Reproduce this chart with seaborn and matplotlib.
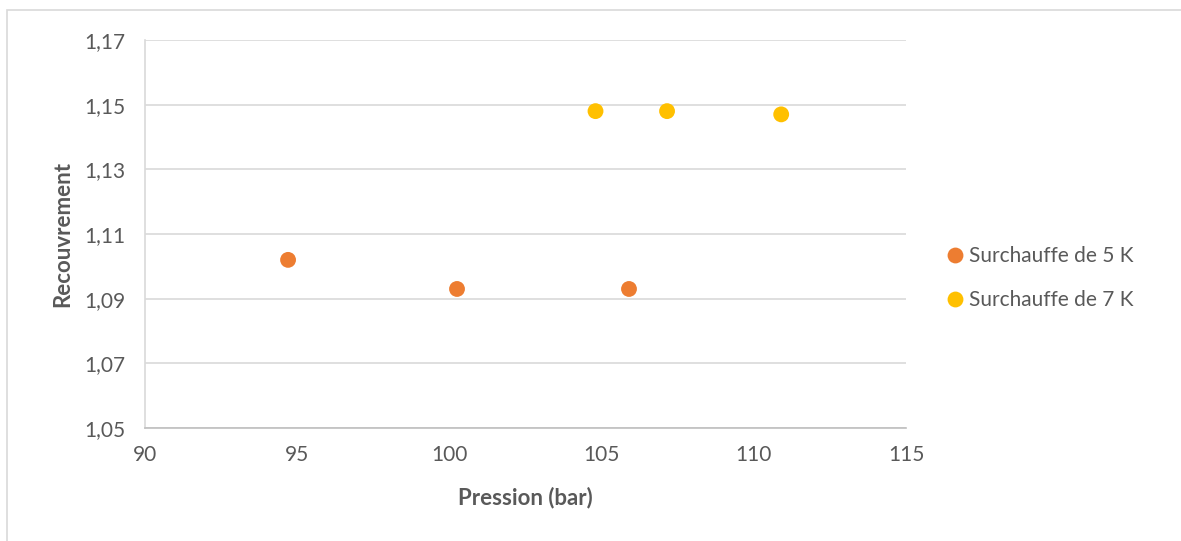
import matplotlib
matplotlib.use("Agg")
import matplotlib.pyplot as plt
import seaborn as sns
import pandas as pd
from matplotlib.ticker import FuncFormatter, FixedLocator
from matplotlib.patches import Rectangle

series_names = ["Surchauffe de 5 K", "Surchauffe de 7 K"]
pression_5K = [94.7, 100.25, 105.9]
recouvrement_5K = [1.102, 1.093, 1.093]
pression_7K = [104.8, 107.15, 110.9]
recouvrement_7K = [1.148, 1.148, 1.147]
x_ticks = [90, 95, 100, 105, 110, 115]
y_ticks = [1.05, 1.07, 1.09, 1.11, 1.13, 1.15, 1.17]
colors = ["#ED7D31", "#FFC000"]

df = pd.DataFrame({
    "Pression": pression_5K + pression_7K,
    "Recouvrement": recouvrement_5K + recouvrement_7K,
    "Série": [series_names[0]] * len(pression_5K) + [series_names[1]] * len(pression_7K),
})

sns.set_theme(style="white")
plt.rcParams["font.family"] = ["Lato", "DejaVu Sans"]

fig = plt.figure(figsize=(11.81, 5.41), dpi=100)
ax = fig.add_axes([145/1181, 1-428/541, (906-145)/1181, (428-40)/541])

sns.scatterplot(data=df, x="Pression", y="Recouvrement", hue="Série",
                palette=dict(zip(series_names, colors)), s=130, edgecolor="none",
                ax=ax, zorder=3)

ax.set_xlim(x_ticks[0], x_ticks[-1])
ax.set_ylim(y_ticks[0], y_ticks[-1])
ax.xaxis.set_major_locator(FixedLocator(x_ticks))
ax.yaxis.set_major_locator(FixedLocator(y_ticks))
ax.xaxis.set_major_formatter(FuncFormatter(lambda v, p: f"{v:.0f}"))
ax.yaxis.set_major_formatter(FuncFormatter(lambda v, p: f"{v:.2f}".replace(".", ",")))
ax.grid(axis="y", color="#D9D9D9", linewidth=1.2)
ax.set_axisbelow(True)
for s in ["top", "right"]:
    ax.spines[s].set_visible(False)
ax.spines["left"].set_color("#D9D9D9")
ax.spines["left"].set_linewidth(1.2)
ax.spines["bottom"].set_color("#BFBFBF")
ax.spines["bottom"].set_linewidth(1.2)
ax.tick_params(axis="both", length=0, labelsize=15, labelcolor="#595959")
ax.tick_params(axis="y", pad=14)
ax.tick_params(axis="x", pad=12)
ax.set_xlabel("Pression (bar)", fontsize=16, fontweight="bold", color="#595959", labelpad=16)
ax.set_ylabel("Recouvrement", fontsize=16, fontweight="bold", color="#595959", labelpad=8)

leg = ax.legend(loc="center left", bbox_to_anchor=(1.012, 0.387), frameon=False,
                fontsize=15, handletextpad=-0.3, labelspacing=1.15, markerscale=1.0)
for t in leg.get_texts():
    t.set_color("#595959")

fig.patches.append(Rectangle((7/1181, -0.1), 1.2, 1-10/541+0.1, transform=fig.transFigure,
                             fill=False, edgecolor="#D9D9D9", linewidth=1.2))

fig.savefig("out.png", dpi=100)
